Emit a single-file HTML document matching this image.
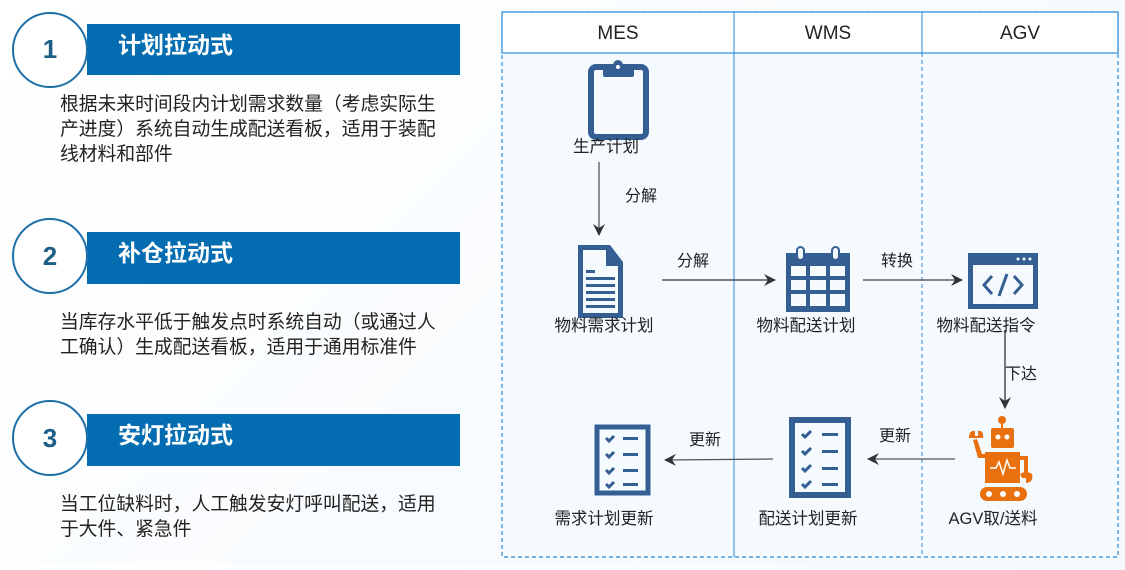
<!DOCTYPE html>
<html><head><meta charset="utf-8"><style>
html,body{margin:0;padding:0;}
body{width:1125px;height:565px;overflow:hidden;background:linear-gradient(135deg,#ffffff,#f3f9fe);font-family:"Liberation Sans","Noto Sans CJK SC",sans-serif;}
</style></head><body>
<svg width="1125" height="565" viewBox="0 0 1125 565" xmlns="http://www.w3.org/2000/svg" font-family="Liberation Sans, Noto Sans CJK SC, sans-serif">
<defs>
<marker id="ar" viewBox="0 0 12 12" refX="11" refY="6" markerWidth="12" markerHeight="12" markerUnits="userSpaceOnUse" orient="auto">
<path d="M0,0 L12,6 L0,12 L4,6 Z" fill="#333"/></marker>
</defs>
<g>
<rect x="87" y="24" width="373" height="51" fill="#046cb0"/>
<circle cx="50" cy="50" r="37" fill="#fff" stroke="#1e6fa8" stroke-width="2"/>
<text x="50" y="58" font-size="26" font-weight="bold" fill="#1d5f86" text-anchor="middle">1</text>
<text x="118" y="53" font-size="23" font-weight="bold" fill="#fff">计划拉动式</text>
<text font-size="18.8" fill="#222"><tspan x="60" y="110">根据未来时间段内计划需求数量（考虑实际生</tspan><tspan x="60" y="135">产进度）系统自动生成配送看板，适用于装配</tspan><tspan x="60" y="160">线材料和部件</tspan></text>

<rect x="87" y="232" width="373" height="52" fill="#046cb0"/>
<circle cx="50" cy="256" r="37" fill="#fff" stroke="#1e6fa8" stroke-width="2"/>
<text x="50" y="265" font-size="26" font-weight="bold" fill="#1d5f86" text-anchor="middle">2</text>
<text x="118" y="261" font-size="23" font-weight="bold" fill="#fff">补仓拉动式</text>
<text font-size="18.8" fill="#222"><tspan x="60" y="328">当库存水平低于触发点时系统自动（或通过人</tspan><tspan x="60" y="353">工确认）生成配送看板，适用于通用标准件</tspan></text>

<rect x="87" y="414" width="373" height="52" fill="#046cb0"/>
<circle cx="50" cy="438" r="37" fill="#fff" stroke="#1e6fa8" stroke-width="2"/>
<text x="50" y="447" font-size="26" font-weight="bold" fill="#1d5f86" text-anchor="middle">3</text>
<text x="118" y="443" font-size="23" font-weight="bold" fill="#fff">安灯拉动式</text>
<text font-size="18.8" fill="#222"><tspan x="60" y="510">当工位缺料时，人工触发安灯呼叫配送，适用</tspan><tspan x="60" y="535">于大件、紧急件</tspan></text>
</g>
<rect x="502" y="12" width="616" height="545" fill="#f5faff" stroke="#2a8ad8" stroke-width="1.2" stroke-dasharray="4,3"/>
<rect x="502" y="12" width="616" height="41" fill="#fff" stroke="#2a8ad8" stroke-width="1.2"/>
<line x1="734" y1="12" x2="734" y2="557" stroke="#2a8ad8" stroke-width="1"/>
<line x1="922" y1="12" x2="922" y2="53" stroke="#2a8ad8" stroke-width="1"/>
<line x1="922" y1="53" x2="922" y2="557" stroke="#2a8ad8" stroke-width="1" stroke-dasharray="4,3"/>
<text x="618" y="39" font-size="19" fill="#222" text-anchor="middle">MES</text>
<text x="828" y="39" font-size="19" fill="#222" text-anchor="middle">WMS</text>
<text x="1020" y="39" font-size="19" fill="#222" text-anchor="middle">AGV</text>

<rect x="591" y="67" width="55" height="70" rx="5" fill="none" stroke="#355f92" stroke-width="6"/>
<rect x="603" y="65" width="31" height="12" rx="2" fill="#355f92"/>
<circle cx="618" cy="65" r="5" fill="#355f92"/><circle cx="618" cy="67" r="2" fill="#fff"/>
<text x="606" y="152" font-size="16.5" fill="#222" text-anchor="middle">生产计划</text>
<line x1="599" y1="162" x2="599" y2="235" stroke="#555" stroke-width="1.3" marker-end="url(#ar)"/>
<text x="625" y="201" font-size="16" fill="#222">分解</text>

<path d="M578,245 L610,245 L623,262 L623,318 L578,318 Z" fill="#355f92"/>
<path d="M583,250 L606,250 L606,266 L618,266 L618,313 L583,313 Z" fill="#f5faff"/>
<path d="M610,248 L621,262 L610,262 Z" fill="#355f92"/>
<g fill="#355f92"><rect x="586" y="270" width="9" height="3"/><rect x="586" y="277" width="29" height="3"/><rect x="586" y="284" width="29" height="3"/><rect x="586" y="291" width="29" height="3"/><rect x="586" y="298" width="29" height="3"/><rect x="586" y="305" width="29" height="3"/></g>
<text x="604" y="331" font-size="16.5" fill="#222" text-anchor="middle">物料需求计划</text>
<line x1="662" y1="280" x2="775" y2="280" stroke="#333" stroke-width="1.3" marker-end="url(#ar)"/>
<text x="693" y="266" font-size="16" fill="#222" text-anchor="middle">分解</text>

<rect x="786" y="253" width="64" height="59" fill="#355f92"/>
<g fill="#f5faff">
<rect x="791" y="266" width="15" height="10"/><rect x="810" y="266" width="16" height="10"/><rect x="830" y="266" width="15" height="10"/>
<rect x="791" y="280" width="15" height="10"/><rect x="810" y="280" width="16" height="10"/><rect x="830" y="280" width="15" height="10"/>
<rect x="791" y="294" width="15" height="12"/><rect x="810" y="294" width="16" height="12"/><rect x="830" y="294" width="15" height="12"/>
<rect x="797" y="247" width="7" height="13" rx="3.5" fill="#f5faff" stroke="#355f92" stroke-width="2"/>
<rect x="832" y="247" width="7" height="13" rx="3.5" fill="#f5faff" stroke="#355f92" stroke-width="2"/>
</g>
<text x="806" y="331" font-size="16.5" fill="#222" text-anchor="middle">物料配送计划</text>
<line x1="863" y1="280" x2="962" y2="280" stroke="#444" stroke-width="1.3" marker-end="url(#ar)"/>
<text x="897" y="266" font-size="16" fill="#222" text-anchor="middle">转换</text>

<rect x="968" y="253" width="70" height="56" fill="#355f92"/>
<rect x="973" y="265" width="60" height="39" fill="#f5faff"/>
<g fill="#f5faff"><circle cx="1018" cy="259" r="1.5"/><circle cx="1024" cy="259" r="1.5"/><circle cx="1030" cy="259" r="1.5"/></g>
<path d="M992,276 L984,285 L992,294 M1014,276 L1022,285 L1014,294 M1007,274 L999,296" fill="none" stroke="#355f92" stroke-width="3"/>
<text x="986" y="331" font-size="16.5" fill="#222" text-anchor="middle">物料配送指令</text>
<line x1="1005" y1="330" x2="1005" y2="408" stroke="#333" stroke-width="1.3" marker-end="url(#ar)"/>
<text x="1021" y="379" font-size="16" fill="#222" text-anchor="middle">下达</text>

<g fill="#e8700f">
<circle cx="1002" cy="420" r="4"/><rect x="1001" y="420" width="2" height="9"/>
<rect x="991" y="428" width="23" height="20" rx="2"/>
<rect x="985" y="452" width="35" height="31"/>
<rect x="980" y="487" width="47" height="14" rx="7"/>
<path d="M985,458 L978,458 L973,440 L977,439 L982,454 L985,454 Z"/>
<path d="M969,438 Q969,430 975,431 L975,436 L978,436 L978,431 Q984,430 983,438 Z"/>
<path d="M1020,456 L1028,456 L1028,475 L1024,475 L1024,460 L1020,460 Z"/>
<path d="M1020,474 Q1026,470 1032,474 Q1034,482 1026,483 L1026,478 L1022,478 Z"/>
</g>
<g fill="#fff"><circle cx="998" cy="437" r="2.5"/><circle cx="1007" cy="437" r="2.5"/>
<circle cx="989" cy="494" r="3"/><circle cx="1003" cy="494" r="3"/><circle cx="1017" cy="494" r="3"/></g>
<path d="M990,468 L996,468 L999,462 L1003,474 L1007,460 L1010,468 L1016,468" fill="none" stroke="#fff" stroke-width="1.5"/>
<text x="993" y="524" font-size="16.5" fill="#222" text-anchor="middle">AGV取/送料</text>

<rect x="792" y="420" width="56" height="75" fill="#f5faff" stroke="#355f92" stroke-width="6"/>
<g fill="none" stroke="#355f92" stroke-width="3"><path d="M802,434 l3,3 l6,-6 M802,451 l3,3 l6,-6 M802,468 l3,3 l6,-6 M802,484 l3,3 l6,-6"/></g>
<g fill="#355f92"><rect x="822" y="433" width="16" height="3"/><rect x="822" y="450" width="16" height="3"/><rect x="822" y="467" width="16" height="3"/><rect x="822" y="483" width="16" height="3"/></g>
<text x="808" y="524" font-size="16.5" fill="#222" text-anchor="middle">配送计划更新</text>
<line x1="955" y1="459" x2="868" y2="459" stroke="#555" stroke-width="1.3" marker-end="url(#ar)"/>
<text x="895" y="441" font-size="16" fill="#222" text-anchor="middle">更新</text>

<rect x="597" y="427" width="51" height="66" fill="#f5faff" stroke="#355f92" stroke-width="5"/>
<g fill="none" stroke="#355f92" stroke-width="3"><path d="M606,438 l3,3 l5,-5 M606,454 l3,3 l5,-5 M606,470 l3,3 l5,-5 M606,484 l3,3 l5,-5"/></g>
<g fill="#355f92"><rect x="623" y="437" width="15" height="3"/><rect x="623" y="453" width="15" height="3"/><rect x="623" y="469" width="15" height="3"/><rect x="623" y="483" width="15" height="3"/></g>
<text x="604" y="524" font-size="16.5" fill="#222" text-anchor="middle">需求计划更新</text>
<line x1="773" y1="459" x2="665" y2="460" stroke="#555" stroke-width="1.3" marker-end="url(#ar)"/>
<text x="705" y="445" font-size="16" fill="#222" text-anchor="middle">更新</text>
</svg>
</body></html>
